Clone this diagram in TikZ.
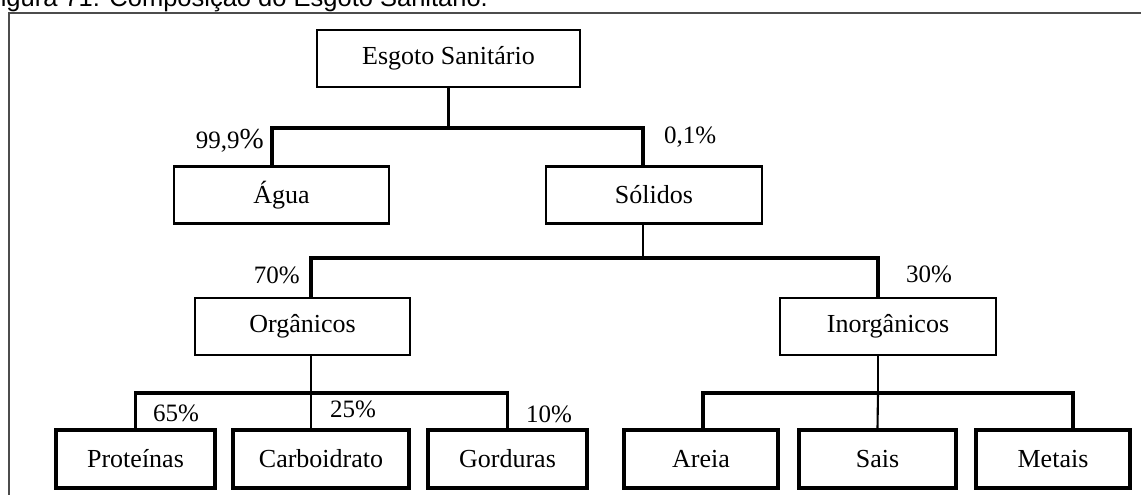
\documentclass[tikz,border=0pt]{standalone}
\usepackage{fontspec}
\setmainfont{Liberation Serif}
\newfontfamily\capfont{Liberation Sans}
\begin{document}
\begin{tikzpicture}[x=1pt, y=-1pt,
    n/.style={draw, line width=2.6pt, inner sep=0pt, minimum height=57pt, font=\fontsize{26}{30}\selectfont},
    leaf/.style={n, line width=3.6pt, minimum height=58pt},
    lnk/.style={line width=3.3pt},
    stem/.style={line width=2.1pt},
    pct/.style={inner sep=0pt, font=\fontsize{25}{30}\selectfont}
  ]
    \useasboundingbox (0,0) rectangle (1141,495);
    % caption (cut at the top) and frame
    \node[anchor=base west, inner sep=0pt, font=\capfont\fontsize{25.5}{30}\selectfont] (cap) at (-15,7) {Figura 71: Composição do Esgoto Sanitário.};
    \draw[gray!60!black, line width=1.4pt] (9,505) |- (1150,13);

    \node[n, minimum width=263pt] (E) at (448.5,58.5) {Esgoto Sanitário};
    \node[n, minimum width=215pt] (A) at (281.5,195) {Água};
    \node[n, minimum width=216pt] (S) at (654,195) {Sólidos};
    \node[n, minimum width=215pt] (O) at (302.5,326.5) {Orgânicos};
    \node[n, minimum width=216pt] (I) at (888,326.5) {Inorgânicos};
    \node[leaf, minimum width=159pt] (P) at (135.5,459) {Proteínas};
    \node[leaf, minimum width=176pt] (C) at (321,459) {Carboidrato};
    \node[leaf, minimum width=159pt] (G) at (507.5,459) {Gorduras};
    \node[leaf, minimum width=154pt] (Ar) at (701,459) {Areia};
    \node[leaf, minimum width=157pt] (Sa) at (877.5,459) {Sais};
    \node[leaf, minimum width=154pt] (M) at (1053,459) {Metais};

    \coordinate (b1) at (448,128);
    \coordinate (b2) at (643,258);
    \coordinate (b3) at (311,393);
    \coordinate (b4) at (878,393);

    \draw[stem] (E.south) -- (E.south |- b1);
    \draw[lnk] ([xshift=-9.5pt]A.north) |- (b1) -| ([xshift=-11pt]S.north);
    \draw[stem] ([xshift=-11pt]S.south) -- (b2);
    \draw[lnk] ([xshift=8.5pt]O.north) |- (b2) -| ([xshift=-10pt]I.north);
    \draw[stem] ([xshift=8.5pt]O.south) -- (b3);
    \draw[lnk] (P.north) |- (b3) -| (G.north);
    \draw[stem] (b3) -- ([xshift=-10pt]C.north);
    \draw[stem] ([xshift=-10pt]I.south) -- (b4);
    \draw[lnk] ([xshift=2pt]Ar.north) |- (b4) -| ([xshift=20pt]M.north);
    \draw[stem] (b4) -- (Sa.north);

    \node[pct, anchor=base east] (l999) at (264,148) {99,9{\fontsize{29}{30}\selectfont\%}};
    \node[pct, anchor=base west] (l01) at (664,143) {0,1\%};
    \node[pct, anchor=base east] (l70) at (300,283) {70\%};
    \node[pct, anchor=base west] (l30) at (906,282) {30\%};
    \node[pct, anchor=base west] (l65) at (153,421) {65\%};
    \node[pct, anchor=base west] (l25) at (330,417) {25\%};
    \node[pct, anchor=base west] (l10) at (526,422) {10\%};
\end{tikzpicture}
\end{document}
